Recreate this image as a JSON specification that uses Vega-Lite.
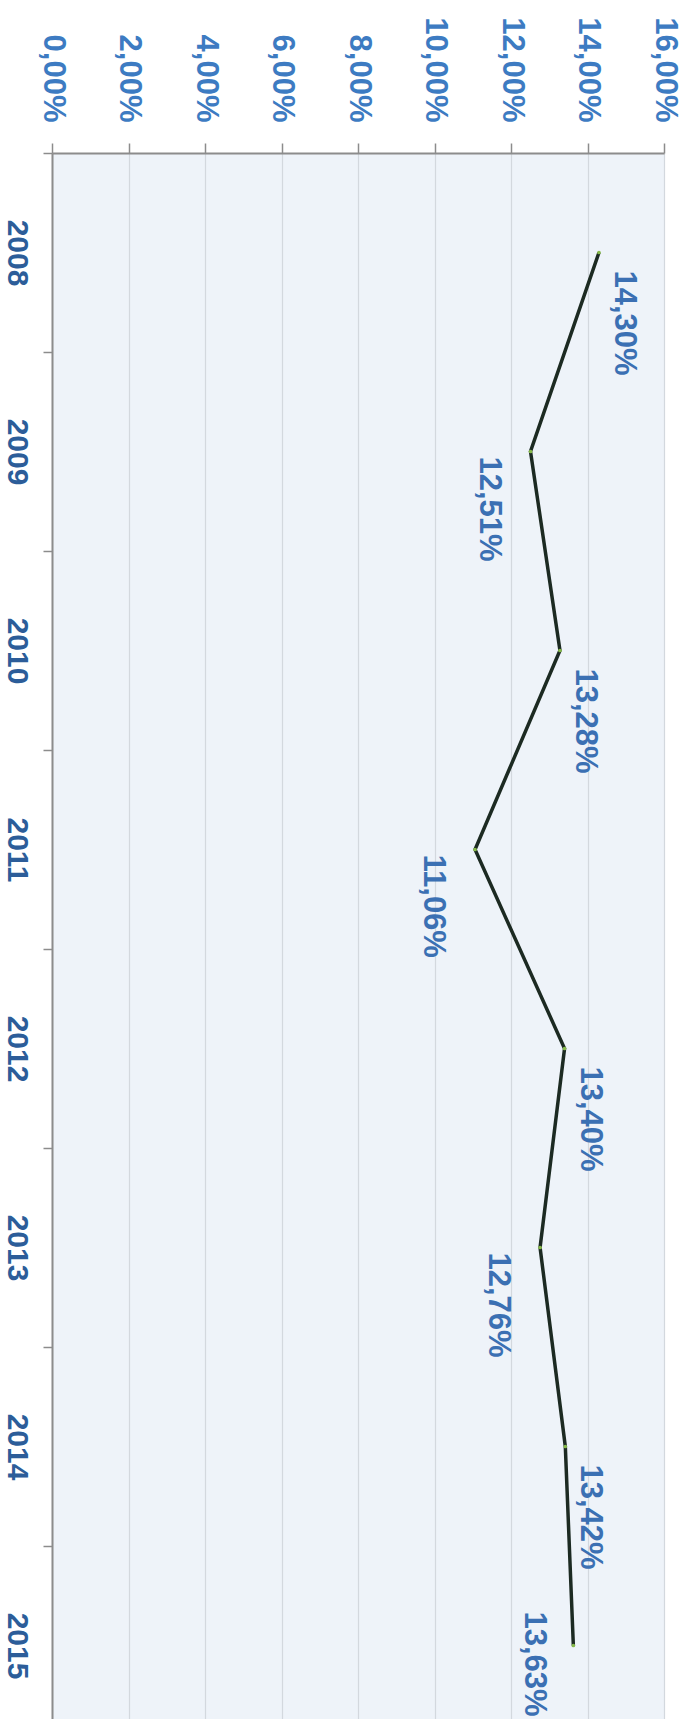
{
  "$schema": "https://vega.github.io/schema/vega-lite/v6.json",
  "width": 612,
  "height": 1592,
  "autosize": {"type": "none"},
  "padding": {"left": 52, "top": 153, "right": 22, "bottom": 0},
  "background": "#ffffff",
  "config": {"view": {"fill": "#eef3f9", "stroke": null}, "font": "Liberation Sans"},
  "data": {
    "values": [
      {"year": "2008", "rate": 14.30, "side": "right"},
      {"year": "2009", "rate": 12.51, "side": "left"},
      {"year": "2010", "rate": 13.28, "side": "right"},
      {"year": "2011", "rate": 11.06, "side": "left"},
      {"year": "2012", "rate": 13.40, "side": "right"},
      {"year": "2013", "rate": 12.76, "side": "left"},
      {"year": "2014", "rate": 13.42, "side": "right"},
      {"year": "2015", "rate": 13.63, "side": "left"}
    ]
  },
  "transform": [
    {"calculate": "replace(format(datum.rate, '.2f'), '.', ',') + '%'", "as": "label"}
  ],
  "encoding": {
    "y": {
      "field": "year",
      "type": "ordinal",
      "bandPosition": 0.5,
      "scale": {"type": "band", "paddingInner": 0, "paddingOuter": 0},
      "axis": {
        "orient": "left",
        "title": null,
        "tickBand": "extent",
        "labelAngle": 90,
        "labelAlign": "center",
        "labelBaseline": "top",
        "labelPadding": 12,
        "labelFontSize": 30,
        "labelFont": "Liberation Sans",
        "labelFontWeight": "bold",
        "labelColor": "#2c5d99",
        "tickSize": 9,
        "tickColor": "#8c8c8c",
        "tickWidth": 1.5,
        "domainColor": "#8c8c8c",
        "domainWidth": 2,
        "grid": false
      }
    },
    "x": {
      "field": "rate",
      "type": "quantitative",
      "scale": {"domain": [0, 16], "nice": false},
      "axis": {
        "orient": "top",
        "title": null,
        "values": [0, 2, 4, 6, 8, 10, 12, 14, 16],
        "labelExpr": "replace(format(datum.value, '.2f'), '.', ',') + '%'",
        "labelAngle": 90,
        "labelAlign": "right",
        "labelBaseline": "middle",
        "labelPadding": 21,
        "labelFontSize": 31,
        "labelFont": "Liberation Sans",
        "labelFontWeight": "bold",
        "labelColor": "#3d7bc2",
        "labelFlush": false,
        "labelOverlap": false,
        "labelBound": false,
        "tickSize": 10,
        "tickColor": "#8c8c8c",
        "tickWidth": 1.5,
        "domainColor": "#8c8c8c",
        "domainWidth": 2,
        "grid": true,
        "gridColor": "#d3d8de",
        "gridWidth": 1.2
      }
    }
  },
  "layer": [
    {"mark": {"type": "line", "color": "#1c2a22", "strokeWidth": 3.5}},
    {"mark": {"type": "point", "filled": true, "color": "#86b94a", "size": 14, "opacity": 1}},
    {
      "transform": [{"filter": "datum.side === 'right'"}],
      "mark": {"type": "text", "angle": 90, "align": "left", "baseline": "bottom", "dx": 18, "dy": -9, "fontSize": 31, "fontWeight": "bold", "color": "#3b70b3", "font": "Liberation Sans"},
      "encoding": {"text": {"field": "label", "type": "nominal"}}
    },
    {
      "transform": [{"filter": "datum.side === 'left' && datum.year !== '2015'"}],
      "mark": {"type": "text", "angle": 90, "align": "left", "baseline": "top", "dx": 5, "dy": 27, "fontSize": 31, "fontWeight": "bold", "color": "#3b70b3", "font": "Liberation Sans"},
      "encoding": {"text": {"field": "label", "type": "nominal"}}
    },
    {
      "transform": [{"filter": "datum.year === '2015'"}],
      "mark": {"type": "text", "angle": 90, "align": "left", "baseline": "top", "dx": -34, "dy": 24, "fontSize": 31, "fontWeight": "bold", "color": "#3b70b3", "font": "Liberation Sans"},
      "encoding": {"text": {"field": "label", "type": "nominal"}}
    }
  ]
}
